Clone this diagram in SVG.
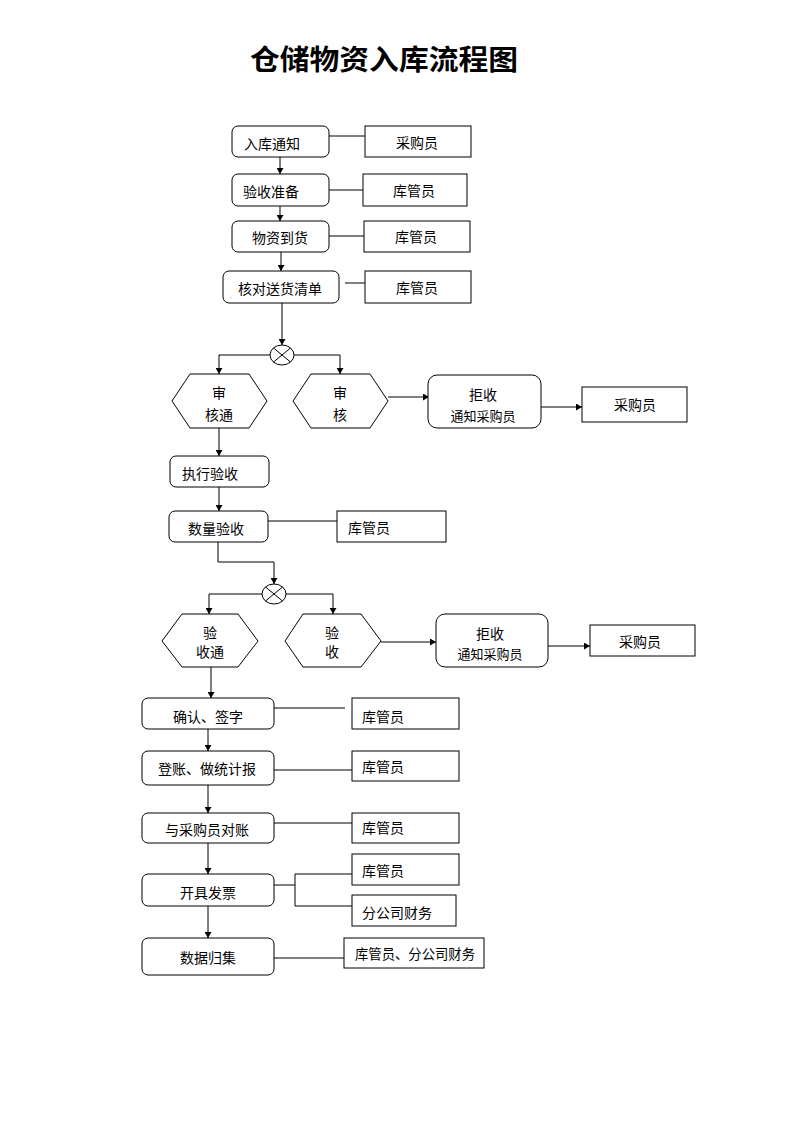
<svg xmlns="http://www.w3.org/2000/svg" width="794" height="1123" viewBox="0 0 794 1123">
<style>
.r{fill:#fff;stroke:#000;stroke-width:1}
.p{fill:#fff;stroke:#000;stroke-width:1}
.l{fill:none;stroke:#000;stroke-width:1}
.a{fill:none;stroke:#000;stroke-width:1;marker-end:url(#ah)}
text{font-family:"Noto Sans CJK SC","Noto Sans",sans-serif;font-size:14px;fill:#000}
.c{text-anchor:middle}
.s{font-size:13px}
.t{font-size:28px;font-weight:700}
</style>
<defs>
<marker id="ah" markerUnits="userSpaceOnUse" markerWidth="7" markerHeight="7" refX="6" refY="3.5" orient="auto">
<path d="M0,0 L6,3.5 L0,7 z" fill="#000"/>
</marker>
</defs>
<rect width="794" height="1123" fill="#fff"/>
<text id="title" class="t c" x="384" y="70" textLength="268" lengthAdjust="spacingAndGlyphs">仓储物资入库流程图</text>

<g id="connectors">
<path class="l" d="M329,136H365"/>
<path class="a" d="M280,157V174"/>
<path class="l" d="M329,190H363"/>
<path class="a" d="M280,206V221"/>
<path class="l" d="M329,236H364"/>
<path class="a" d="M281,252V271"/>
<path class="l" d="M345,283H365"/>
<path class="a" d="M282,303V345"/>
<path class="a" d="M270,355H219V374"/>
<path class="a" d="M294,355H340V374"/>
<path class="a" d="M388,397H429"/>
<path class="a" d="M541,407H582"/>
<path class="a" d="M219,428V456"/>
<path class="a" d="M219,487V511"/>
<path class="l" d="M268,521H337"/>
<path class="a" d="M218,542V562H274V584"/>
<path class="a" d="M262,594H209V614"/>
<path class="a" d="M286,594H333V614"/>
<path class="a" d="M381,642H436"/>
<path class="a" d="M548,646H590"/>
<path class="a" d="M211,667V698"/>
<path class="l" d="M274,708H345"/>
<path class="a" d="M208,729V751"/>
<path class="l" d="M274,770H352"/>
<path class="a" d="M208,785V813"/>
<path class="l" d="M274,823H352"/>
<path class="a" d="M208,843V874"/>
<path class="l" d="M274,885H295M352,874H295V906H352"/>
<path class="a" d="M208,906V938"/>
<path class="l" d="M274,958H344"/>
</g>

<g id="n1"><rect class="r" x="232" y="126" width="97" height="31" rx="6"/><text x="244" y="149">入库通知</text></g>
<g id="n1r"><rect class="r" x="365" y="126" width="106" height="31"/><text class="c" x="417" y="148">采购员</text></g>
<g id="n2"><rect class="r" x="232" y="174" width="97" height="32" rx="6"/><text x="243" y="197">验收准备</text></g>
<g id="n2r"><rect class="r" x="363" y="174" width="104" height="32"/><text class="c" x="414" y="196">库管员</text></g>
<g id="n3"><rect class="r" x="232" y="221" width="97" height="31" rx="6"/><text x="252" y="243">物资到货</text></g>
<g id="n3r"><rect class="r" x="364" y="221" width="106" height="31"/><text class="c" x="416" y="242">库管员</text></g>
<g id="n4"><rect class="r" x="223" y="271" width="116" height="32" rx="6"/><text class="c" x="280" y="294">核对送货清单</text></g>
<g id="n4r"><rect class="r" x="365" y="271" width="106" height="32"/><text class="c" x="417" y="293">库管员</text></g>

<g id="x1"><ellipse class="r" cx="282" cy="355" rx="12" ry="10"/><path class="l" d="M273.5,348L290.5,362M273.5,362L290.5,348"/></g>

<g id="h1"><polygon class="p" points="190,374 249,374 267,401 249,428 190,428 172,401"/><text class="c" x="219" y="398">审</text><text class="c" x="219" y="420">核通</text></g>
<g id="h2"><polygon class="p" points="311,374 370,374 388,401 370,428 311,428 293,401"/><text class="c" x="340" y="398">审</text><text class="c" x="340" y="420">核</text></g>
<g id="rj1"><rect class="r" x="428" y="375" width="113" height="53" rx="9"/><text class="c" x="483" y="400">拒收</text><text class="c s" x="483" y="421">通知采购员</text></g>
<g id="rj1r"><rect class="r" x="582" y="387" width="105" height="35"/><text class="c" x="635" y="410">采购员</text></g>

<g id="n5"><rect class="r" x="170" y="456" width="99" height="31" rx="6"/><text x="182" y="479">执行验收</text></g>
<g id="n6"><rect class="r" x="169" y="511" width="99" height="31" rx="6"/><text x="188" y="534">数量验收</text></g>
<g id="n6r"><rect class="r" x="337" y="511" width="109" height="31"/><text x="348" y="533">库管员</text></g>

<g id="x2"><ellipse class="r" cx="274" cy="594" rx="12" ry="10"/><path class="l" d="M265.5,587L282.5,601M265.5,601L282.5,587"/></g>

<g id="h3"><polygon class="p" points="182,614 238,614 258,641 238,667 182,667 162,641"/><text class="c" x="210" y="638">验</text><text class="c" x="210" y="657">收通</text></g>
<g id="h4"><polygon class="p" points="303,614 361,614 381,641 361,667 303,667 285,641"/><text class="c" x="332" y="638">验</text><text class="c" x="332" y="657">收</text></g>
<g id="rj2"><rect class="r" x="436" y="614" width="112" height="53" rx="9"/><text class="c" x="490" y="639">拒收</text><text class="c s" x="490" y="659">通知采购员</text></g>
<g id="rj2r"><rect class="r" x="590" y="625" width="105" height="31"/><text class="c" x="640" y="647">采购员</text></g>

<g id="n7"><rect class="r" x="142" y="698" width="132" height="31" rx="6"/><text class="c" x="208" y="722">确认、签字</text></g>
<g id="n7r"><rect class="r" x="352" y="698" width="107" height="31"/><text x="362" y="722">库管员</text></g>
<g id="n8"><rect class="r" x="142" y="751" width="132" height="34" rx="6"/><text class="c" x="207" y="774">登账、做统计报</text></g>
<g id="n8r"><rect class="r" x="352" y="751" width="107" height="30"/><text x="362" y="772">库管员</text></g>
<g id="n9"><rect class="r" x="142" y="813" width="132" height="30" rx="6"/><text class="c" x="207" y="835">与采购员对账</text></g>
<g id="n9r"><rect class="r" x="352" y="813" width="107" height="30"/><text x="362" y="833">库管员</text></g>
<g id="n10"><rect class="r" x="142" y="874" width="132" height="32" rx="6"/><text class="c" x="208" y="898">开具发票</text></g>
<g id="n10a"><rect class="r" x="352" y="854" width="107" height="31"/><text x="362" y="876">库管员</text></g>
<g id="n10b"><rect class="r" x="352" y="895" width="104" height="31"/><text x="362" y="918">分公司财务</text></g>
<g id="n11"><rect class="r" x="142" y="938" width="132" height="37" rx="6"/><text class="c" x="208" y="963">数据归集</text></g>
<g id="n11r"><rect class="r" x="344" y="938" width="140" height="30"/><text x="355" y="959" textLength="120" lengthAdjust="spacingAndGlyphs">库管员、分公司财务</text></g>
</svg>
